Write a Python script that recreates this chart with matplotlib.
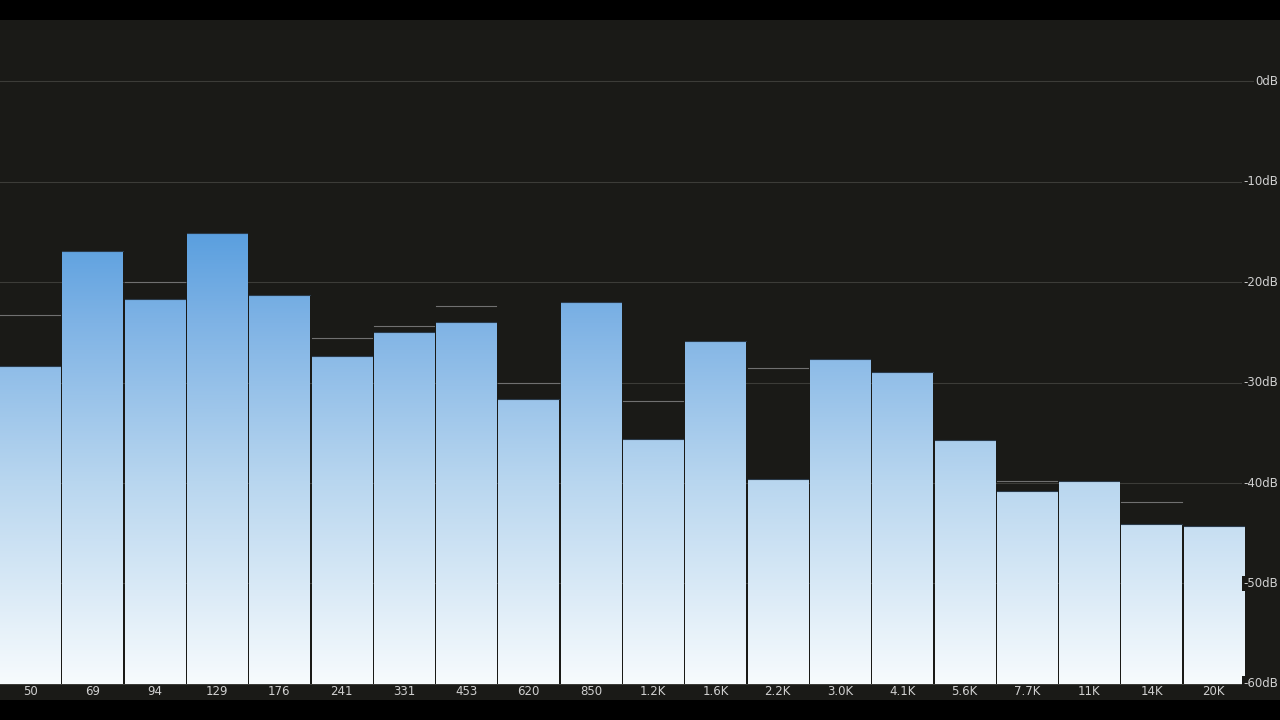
import matplotlib
matplotlib.use("Agg")
import matplotlib.pyplot as plt
import numpy as np
from matplotlib.patches import Rectangle
from matplotlib.colors import LinearSegmentedColormap

# band labels, current level and peak hold (dB)
bands = ["50", "69", "94", "129", "176", "241", "331", "453", "620", "850",
         "1.2K", "1.6K", "2.2K", "3.0K", "4.1K", "5.6K", "7.7K", "11K", "14K", "20K"]
levels = [-28.3, -16.9, -21.7, -15.1, -21.3, -27.4, -25.0, -24.0, -31.6, -22.0,
          -35.6, -25.9, -39.6, -27.7, -28.9, -35.7, -40.8, -39.8, -44.1, -44.3]
peaks = [-23.3, -16.9, -20.0, -15.1, -21.3, -25.6, -24.4, -22.4, -30.0, -22.0,
         -31.8, -25.9, -28.5, -27.7, -28.9, -35.7, -39.8, -39.8, -41.9, -44.3]
db_ticks = [0, -10, -20, -30, -40, -50, -60]

bg = "#1a1a17"
fig = plt.figure(figsize=(12.8, 7.2), dpi=100, facecolor="black")
ax = fig.add_axes([0, 20 / 720, 1, 680 / 720])
ax.set_facecolor(bg)
ymin, ymax = -61.6, 6.1
xmax = 1280 / 62.3
ax.set_xlim(0, xmax)
ax.set_ylim(ymin, ymax)
for s in ax.spines.values():
    s.set_visible(False)
ax.set_xticks([])
ax.set_yticks([])

for d in db_ticks:
    ax.axhline(d, color="#3c3c38", lw=0.8, zorder=0)
    ax.text(xmax - 0.03, d, f"{d}dB", color="#d0d0d0", fontsize=8.5,
            ha="right", va="center", zorder=5,
            bbox=dict(facecolor=bg, edgecolor="none", pad=1))

cmap = LinearSegmentedColormap.from_list(
    "spec", [(0, "#f7fbfd"), (0.45, "#b8d6ef"), (0.8, "#7fb3e5"), (1, "#5a9fdf")])
grad = np.linspace(0, 1, 256).reshape(-1, 1)
gap = 2 / 62.3
for i, (lv, pk) in enumerate(zip(levels, peaks)):
    x0 = i
    w = 1 - gap
    im = ax.imshow(grad, cmap=cmap, origin="lower", aspect="auto",
                   extent=(0, xmax, -60, -15), zorder=2)
    im.set_clip_path(Rectangle((x0, -60), w, lv + 60, transform=ax.transData))
    ax.plot([x0, x0 + w], [lv, lv], color="#2a3a4a", lw=0.8, zorder=3)
    if pk > lv + 0.3:
        ax.plot([x0, x0 + w], [pk, pk], color="#707070", lw=0.8, zorder=3)
    ax.text(x0 + w / 2, -60.8, bands[i], color="#d0d0d0", fontsize=8.5,
            ha="center", va="center", zorder=5)

fig.savefig("out.png", dpi=100, facecolor="black")
